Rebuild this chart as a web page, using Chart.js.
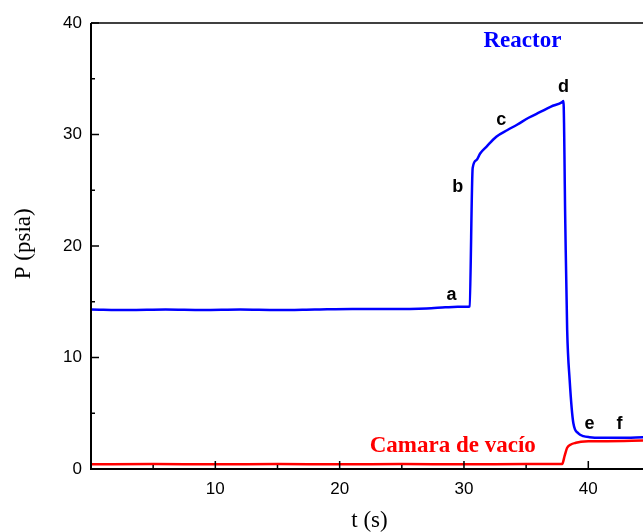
<!DOCTYPE html>
<html>
<head>
<meta charset="utf-8">
<script src="https://cdn.jsdelivr.net/npm/chart.js@4.4.1/dist/chart.umd.min.js"></script>
<style>
  html, body { margin: 0; padding: 0; background: #fff; }
  #wrap { width: 643px; height: 532px; position: relative; }
</style>
</head>
<body>
<div id="wrap"><canvas id="chart"></canvas></div>
<script>
// Presión en el reactor (psia) vs tiempo (s)
const reactorTime = [0, 3, 6, 9, 12, 15, 18, 21, 24, 27, 28.5, 29.5, 30.3, 30.45, 30.7, 31.0, 31.3, 31.8, 32.6, 33.5, 34.3, 35.2, 36.1, 37.0, 37.9, 38.0, 38.15, 38.3, 38.5, 38.8, 39.2, 39.6, 40.1, 41, 42.5, 44.5];
const reactorP    = [14.3, 14.25, 14.3, 14.25, 14.3, 14.25, 14.3, 14.35, 14.35, 14.4, 14.5, 14.55, 14.55, 14.6, 27.0, 27.7, 28.3, 28.9, 29.8, 30.4, 30.9, 31.5, 32.0, 32.5, 32.9, 33.0, 22.0, 12.5, 8.0, 4.1, 3.2, 2.95, 2.85, 2.8, 2.8, 2.85];

// Presión en la cámara de vacío
const camaraTime = [0, 5, 10, 15, 20, 25, 30, 35, 37.9, 38.1, 38.3, 38.6, 39.0, 39.4, 40.0, 41.5, 44.5];
const camaraP    = [0.42, 0.45, 0.42, 0.45, 0.42, 0.45, 0.42, 0.45, 0.45, 1.2, 1.9, 2.2, 2.35, 2.45, 2.5, 2.5, 2.55];

const xMajor = [10, 20, 30, 40];
const xMinor = [5, 15, 25, 35];
const yMajor = [0, 10, 20, 30, 40];
const yMinor = [5, 15, 25, 35];

// Letras de cada etapa del ensayo: [t, P, texto]
const stageLabels = [
  [29.0, 15.6, 'a'],
  [29.5, 25.3, 'b'],
  [33.0, 31.3, 'c'],
  [38.0, 34.3, 'd'],
  [40.1, 4.0, 'e'],
  [42.5, 4.0, 'f']
];

const toPts = (xs, ys) => xs.map((x, i) => ({ x: x, y: ys[i] }));

const axesPlugin = {
  id: 'originAxes',
  afterDraw(chart) {
    const { ctx, chartArea: { left, right, top, bottom }, scales: { x, y } } = chart;
    ctx.save();
    ctx.strokeStyle = '#000';
    ctx.lineWidth = 2;
    ctx.beginPath();
    ctx.moveTo(left, top); ctx.lineTo(left, bottom); ctx.lineTo(right, bottom);
    ctx.stroke();
    ctx.lineWidth = 1.5;
    ctx.beginPath();
    ctx.moveTo(left, top); ctx.lineTo(right, top);
    ctx.stroke();

    // marcas hacia adentro
    ctx.lineWidth = 1.5;
    ctx.beginPath();
    xMajor.forEach(v => { const px = x.getPixelForValue(v); ctx.moveTo(px, bottom); ctx.lineTo(px, bottom - 8); });
    xMinor.forEach(v => { const px = x.getPixelForValue(v); ctx.moveTo(px, bottom); ctx.lineTo(px, bottom - 4); });
    yMajor.forEach(v => { const py = y.getPixelForValue(v); ctx.moveTo(left, py); ctx.lineTo(left + 8, py); });
    yMinor.forEach(v => { const py = y.getPixelForValue(v); ctx.moveTo(left, py); ctx.lineTo(left + 4, py); });
    ctx.stroke();

    // etiquetas de etapas
    ctx.fillStyle = '#000';
    ctx.font = 'bold 18px "Liberation Sans", Arial, sans-serif';
    ctx.textAlign = 'center';
    ctx.textBaseline = 'middle';
    stageLabels.forEach(([t, p, s]) => ctx.fillText(s, x.getPixelForValue(t), y.getPixelForValue(p)));

    // nombres de las series
    ctx.font = 'bold 23px "Liberation Serif", "Times New Roman", serif';
    ctx.fillStyle = '#0000ff';
    ctx.fillText('Reactor', x.getPixelForValue(34.7), y.getPixelForValue(38.4));
    ctx.fillStyle = '#ff0000';
    ctx.fillText('Camara de vacío', x.getPixelForValue(29.1), y.getPixelForValue(2.1));

    // títulos de ejes
    ctx.fillStyle = '#000';
    ctx.font = '23px "Liberation Serif", "Times New Roman", serif';
    ctx.fillText('t (s)', x.getPixelForValue(22.4), 521);
    ctx.translate(24, y.getPixelForValue(20.2));
    ctx.rotate(-Math.PI / 2);
    ctx.fillText('P (psia)', 0, 0);
    ctx.restore();
  }
};

new Chart(document.getElementById('chart'), {
  type: 'line',
  data: {
    datasets: [
      {
        label: 'Camara de vacío',
        data: toPts(camaraTime, camaraP),
        borderColor: '#ff0000',
        borderWidth: 2.5,
        pointRadius: 0,
        cubicInterpolationMode: 'monotone'
      },
      {
        label: 'Reactor',
        data: toPts(reactorTime, reactorP),
        borderColor: '#0000ff',
        borderWidth: 2.5,
        pointRadius: 0,
        cubicInterpolationMode: 'monotone'
      }
    ]
  },
  options: {
    responsive: true,
    maintainAspectRatio: false,
    animation: false,
    layout: { padding: { top: 23, right: 0, left: 0, bottom: 0 } },
    plugins: {
      legend: { display: false },
      tooltip: { enabled: false }
    },
    scales: {
      x: {
        type: 'linear',
        min: 0,
        max: 44.4,
        grid: { display: false, drawTicks: false },
        border: { display: false },
        afterFit: s => { s.height = 63; },
        afterBuildTicks: s => { s.ticks = xMajor.map(v => ({ value: v })); },
        ticks: {
          padding: 10,
          color: '#000',
          font: { family: '"Liberation Sans", Arial, sans-serif', size: 17 }
        }
      },
      y: {
        min: 0,
        max: 40,
        grid: { display: false, drawTicks: false },
        border: { display: false },
        afterFit: s => { s.width = 91; },
        afterBuildTicks: s => { s.ticks = yMajor.map(v => ({ value: v })); },
        ticks: {
          padding: 9,
          color: '#000',
          font: { family: '"Liberation Sans", Arial, sans-serif', size: 17 }
        }
      }
    }
  },
  plugins: [axesPlugin]
});
</script>
</body>
</html>
